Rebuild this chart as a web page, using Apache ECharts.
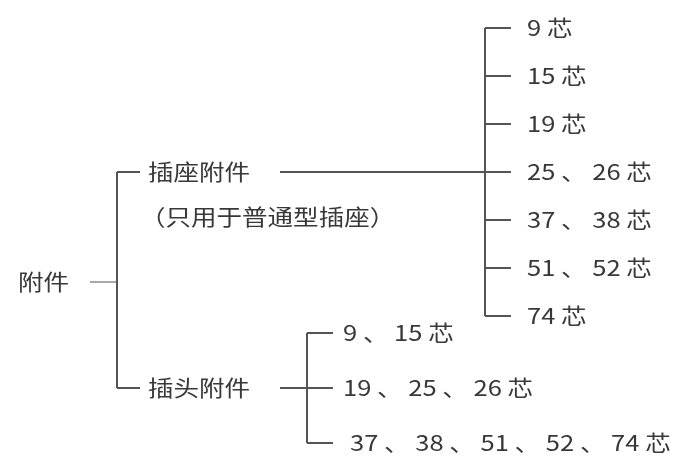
<!DOCTYPE html>
<html>
<head>
<meta charset="utf-8">
<script src="https://cdn.jsdelivr.net/npm/echarts@6/dist/echarts.min.js"></script>
<style>
  html, body { margin: 0; padding: 0; background: #fff; }
  #main { width: 687px; height: 458px; }
</style>
</head>
<body>
<div id="main"></div>
<script>
// 树形结构：根 → 两个分组 → 各自的芯数
const rootLabel = '附件'
const groupLabels = ['插座附件', '插头附件']
const groupNote = '（只用于普通型插座）'
const socketCores = ['9 芯', '15 芯', '19 芯', '25 、 26 芯', '37 、 38 芯', '51 、 52 芯', '74 芯']
const plugCores = ['9 、 15 芯', '19 、 25 、 26 芯', '37 、 38 、 51 、 52 、 74 芯']

// 版式（坐标轴单位 = 像素）
const W = 687
const H = 458
const socketTop = 28
const socketStep = 48
const plugTop = 333
const plugStep = 55
const tick = 26

const socketY = socketCores.map((_, i) => socketTop + i * socketStep)
const plugY = plugCores.map((_, i) => plugTop + i * plugStep)
const mid = arr => (arr[0] + arr[arr.length - 1]) / 2
const groupY = [mid(socketY), mid(plugY)]
const rootY = mid(groupY) + 2

const col = {
  rootText: 18,
  rootLineFrom: 90,
  rootBracket: 117,
  groupText: 148,
  groupLineFrom: 280,
  socketBracket: 485,
  plugBracket: 307,
}

// 线段 [x1, y1, x2, y2, color]
const dark = '#555555'
const light = '#a8a8a8'
const segments = []
segments.push([col.rootLineFrom, rootY, col.rootBracket, rootY, light])
segments.push([col.rootBracket, groupY[0], col.rootBracket, groupY[1], dark])
groupY.forEach(y => segments.push([col.rootBracket, y, col.rootBracket + 23, y, dark]))
segments.push([col.groupLineFrom, groupY[0], col.socketBracket, groupY[0], dark])
segments.push([col.socketBracket, socketY[0], col.socketBracket, socketY[socketY.length - 1], dark])
socketY.forEach(y => segments.push([col.socketBracket, y, col.socketBracket + tick, y, dark]))
segments.push([col.groupLineFrom, groupY[1], col.plugBracket, groupY[1], dark])
segments.push([col.plugBracket, plugY[0], col.plugBracket, plugY[plugY.length - 1], dark])
plugY.forEach(y => segments.push([col.plugBracket, y, col.plugBracket + tick, y, dark]))

// 文字 [x, y, text]
const labels = []
labels.push([col.rootText, rootY, rootLabel])
labels.push([col.groupText, groupY[0], groupLabels[0]])
labels.push([col.groupText - 8, groupY[0] + 45, groupNote])
labels.push([col.groupText, groupY[1], groupLabels[1]])
socketCores.forEach((t, i) => labels.push([col.socketBracket + tick + 16, socketY[i], t]))
plugCores.forEach((t, i) => labels.push([col.plugBracket + tick + 10 + (i === 2 ? 7 : 0), plugY[i], t]))

const chart = echarts.init(document.getElementById('main'))
chart.setOption({
  animation: false,
  grid: { left: 0, right: 0, top: 0, bottom: 0 },
  xAxis: { type: 'value', min: 0, max: W, show: false },
  yAxis: { type: 'value', min: 0, max: H, inverse: true, show: false },
  series: [
    {
      type: 'custom',
      data: segments,
      renderItem: (params, api) => {
        const p1 = api.coord([api.value(0), api.value(1)])
        const p2 = api.coord([api.value(2), api.value(3)])
        return {
          type: 'line',
          shape: { x1: p1[0], y1: p1[1], x2: p2[0], y2: p2[1] },
          style: { stroke: segments[params.dataIndex][4], lineWidth: 2 },
        }
      },
    },
    {
      type: 'custom',
      data: labels,
      renderItem: (params, api) => {
        const p = api.coord([api.value(0), api.value(1)])
        return {
          type: 'text',
          x: p[0],
          y: p[1],
          scaleX: 1.16,
          style: {
            text: labels[params.dataIndex][2],
            fill: '#383838',
            font: '22px "Noto Sans CJK SC", sans-serif',
            verticalAlign: 'middle',
            align: 'left',
          },
        }
      },
    },
  ],
})
</script>
</body>
</html>
